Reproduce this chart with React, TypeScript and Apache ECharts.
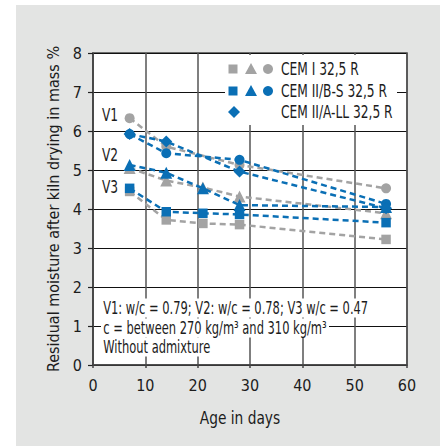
import React, { useEffect, useRef } from "react";
import * as echarts from "echarts";

const FONT = "'Liberation Sans Narrow', 'DejaVu Sans Condensed', 'Roboto Condensed', sans-serif";

// Ages in days
const agesV1 = [7, 14, 28, 56];
const agesV23 = [7, 14, 21, 28, 56];

// CEM I 32,5 R (grey)
const cemI_V1 = [6.33, 5.6, 5.13, 4.53];
const cemI_V2 = [5.05, 4.73, 4.55, 4.32, 3.89];
const cemI_V3 = [4.45, 3.72, 3.63, 3.6, 3.22];

// CEM II/B-S 32,5 R (blue)
const cemBS_V1 = [5.92, 5.43, 5.26, 4.13];
const cemBS_V2 = [5.13, 4.93, 4.53, 4.1, 4.05];
const cemBS_V3 = [4.53, 3.93, 3.89, 3.86, 3.65];

// CEM II/A-LL 32,5 R (blue diamonds)
const cemLL_V1 = [5.92, 5.73, 4.96, 4.02];

const yTicks = [0, 1, 2, 3, 4, 5, 6, 7, 8];
const xTicks = [0, 10, 20, 30, 40, 50, 60];

const legendLabels = ["CEM I 32,5 R", "CEM II/B-S 32,5 R", "CEM II/A-LL 32,5 R"];
const noteLines = [
  "V1: w/c = 0.79; V2: w/c = 0.78; V3 w/c = 0.47",
  "c = between 270 kg/m³ and 310 kg/m³",
  "Without admixture",
];
const vLabels = ["V1", "V2", "V3"];

const GREY = "#a3a3a3";
const BLUE = "#0a6fb5";
const TEXT = "#1c1c1c";

function pairs(xs: number[], ys: number[]) {
  return xs.map((x, i) => [x, ys[i]]);
}

function lineSeries(name: string, xs: number[], ys: number[], color: string, symbol: string, size: number) {
  return {
    name,
    type: "line",
    data: pairs(xs, ys),
    symbol,
    symbolSize: size,
    showSymbol: true,
    lineStyle: { color, width: 2.5, type: [6, 4] },
    itemStyle: { color, opacity: 1 },
    emphasis: { disabled: true },
    z: color === BLUE ? 3 : 2,
  };
}

export default function App() {
  const ref = useRef<HTMLDivElement>(null);
  useEffect(() => {
    document.body.style.margin = "0";
    const chart = echarts.init(ref.current!, null, { renderer: "svg" });
    const font = `17px ${FONT}`;
    const legendY = [69, 91, 112];
    const noteY = [308, 328, 347];
    const vY = [115, 155, 187];
    const graphic: any[] = [
      { type: "rect", shape: { x: 0, y: 0, width: 16, height: 446 }, style: { fill: "#fff" } },
      { type: "rect", shape: { x: 0, y: 0, width: 440, height: 5 }, style: { fill: "#fff" } },
      { type: "rect", shape: { x: 225, y: 55, width: 172, height: 70 }, style: { fill: "#fff" }, z: 5 },
      // legend row 1 (grey)
      { type: "rect", shape: { x: 228.5, y: legendY[0] - 4.5, width: 9, height: 9 }, style: { fill: GREY }, z: 6 },
      { type: "polygon", shape: { points: [[251, legendY[0] - 6], [257, legendY[0] + 5], [245, legendY[0] + 5]] }, style: { fill: GREY }, z: 6 },
      { type: "circle", shape: { cx: 268, cy: legendY[0], r: 5 }, style: { fill: GREY }, z: 6 },
      // legend row 2 (blue)
      { type: "rect", shape: { x: 228.5, y: legendY[1] - 4.5, width: 9, height: 9 }, style: { fill: BLUE }, z: 6 },
      { type: "polygon", shape: { points: [[251, legendY[1] - 6], [257, legendY[1] + 5], [245, legendY[1] + 5]] }, style: { fill: BLUE }, z: 6 },
      { type: "circle", shape: { cx: 268, cy: legendY[1], r: 5 }, style: { fill: BLUE }, z: 6 },
      // legend row 3 (diamond)
      { type: "polygon", shape: { points: [[234, legendY[2] - 6], [240, legendY[2]], [234, legendY[2] + 6], [228, legendY[2]]] }, style: { fill: BLUE }, z: 6 },
      ...legendLabels.map((t, i) => ({
        type: "text", x: 281, y: legendY[i], z: 6, scaleX: 0.8,
        style: { text: t, font, fill: TEXT, align: "left", verticalAlign: "middle" },
      })),
      ...noteLines.map((t, i) => ({
        type: "text", x: 101, y: noteY[i], z: 6, scaleX: 0.75,
        style: { text: t, font, fill: TEXT, align: "left", verticalAlign: "middle", backgroundColor: "#fff", padding: [1, 3, 1, 3] },
      })),
      ...vLabels.map((t, i) => ({
        type: "text", x: 102, y: vY[i], z: 6, scaleX: 0.8,
        style: { text: t, font, fill: TEXT, align: "left", verticalAlign: "middle" },
      })),
      {
        type: "text", x: 240, y: 418, z: 6, scaleX: 0.9,
        style: { text: "Age in days", font, fill: TEXT, align: "center", verticalAlign: "middle" },
      },
    ];

    chart.setOption({
      animation: false,
      backgroundColor: "#e3e4e3",
      textStyle: { fontFamily: FONT },
      grid: {
        left: 93, right: 33, top: 53, bottom: 81,
        show: true, backgroundColor: "#fff", borderColor: "#444", borderWidth: 1.5,
      },
      xAxis: {
        type: "value", min: xTicks[0], max: xTicks[xTicks.length - 1], interval: 10,
        axisLine: { show: true, lineStyle: { color: "#444", width: 1.5 } },
        axisTick: { show: true, length: 3, lineStyle: { color: "#444", width: 1.5 } },
        splitLine: { show: true, lineStyle: { color: "#555", width: 1.5 } },
        axisLabel: { fontSize: 16, color: TEXT, margin: 12, fontFamily: FONT },
      },
      yAxis: {
        type: "value", min: yTicks[0], max: yTicks[yTicks.length - 1], interval: 1,
        name: "Residual moisture after kiln drying in mass %",
        nameLocation: "middle", nameGap: 31,
        nameTextStyle: { fontSize: 16, color: TEXT, fontFamily: FONT },
        axisLine: { show: true, lineStyle: { color: "#444", width: 1.5 } },
        axisTick: { show: true, length: 5, lineStyle: { color: "#222", width: 1.2 } },
        splitLine: { show: true, lineStyle: { color: "#111", width: 1.2 } },
        axisLabel: { fontSize: 16, color: TEXT, margin: 11, fontFamily: FONT },
      },
      series: [
        lineSeries("CEM I V1", agesV1, cemI_V1, GREY, "circle", 10),
        lineSeries("CEM I V2", agesV23, cemI_V2, GREY, "triangle", 12),
        lineSeries("CEM I V3", agesV23, cemI_V3, GREY, "rect", 9.5),
        lineSeries("CEM II/B-S V1", agesV1, cemBS_V1, BLUE, "circle", 10),
        lineSeries("CEM II/B-S V2", agesV23, cemBS_V2, BLUE, "triangle", 12),
        lineSeries("CEM II/B-S V3", agesV23, cemBS_V3, BLUE, "rect", 9.5),
        lineSeries("CEM II/A-LL V1", agesV1, cemLL_V1, BLUE, "diamond", 12),
      ],
      graphic,
    });
    return () => chart.dispose();
  }, []);
  return <div ref={ref} style={{ width: 440, height: 446 }} />;
}
